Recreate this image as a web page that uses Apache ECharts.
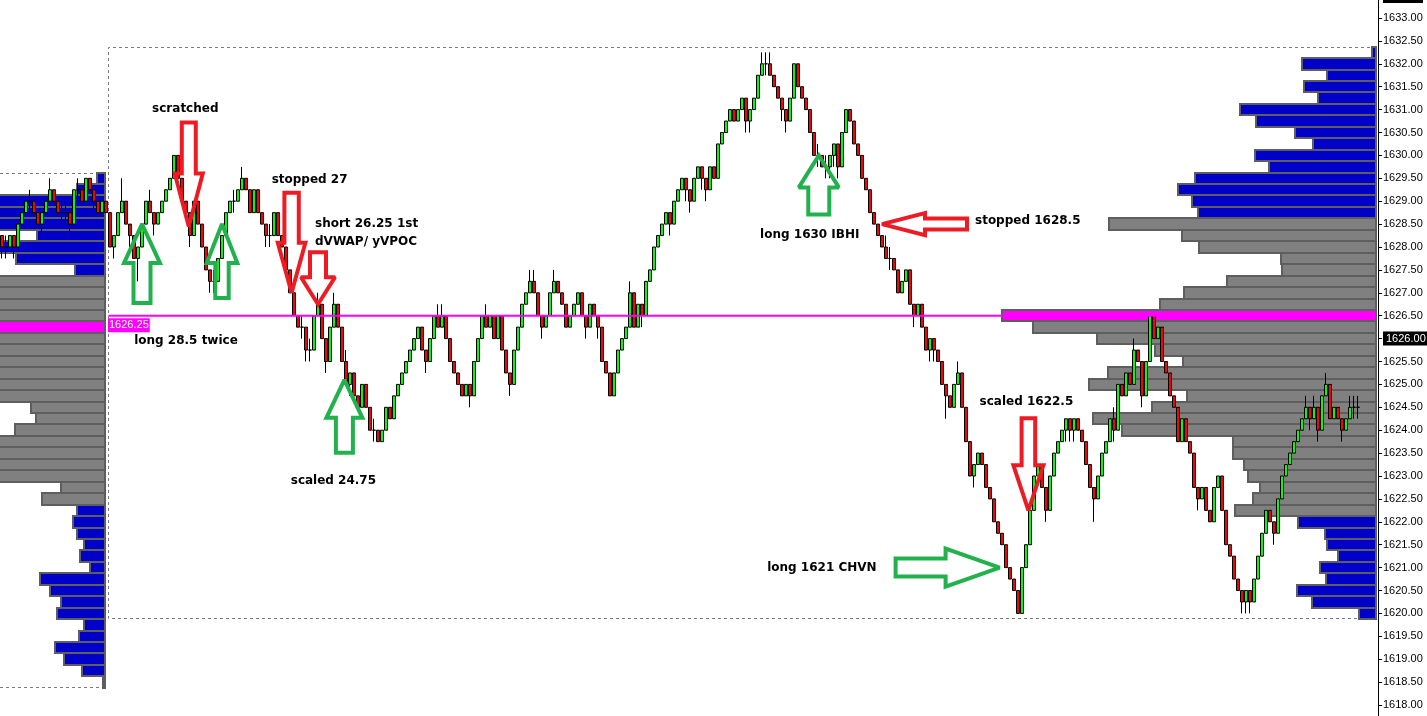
<!DOCTYPE html>
<html>
<head>
<meta charset="utf-8">
<title>ES range bars with session volume profiles</title>
<script src="https://cdn.jsdelivr.net/npm/echarts@6/dist/echarts.min.js"></script>
<style>
  html, body { margin: 0; padding: 0; background: #ffffff; }
  #chart { width: 1427px; height: 716px; }
</style>
</head>
<body>
<div id="chart"></div>
<script>
// ---------- price scale ----------
const TICK = 0.25;
const PRICE_MIN = 1618;
const PRICE_MAX = 1633;
const PRICE_STEP = 0.5;
const markedPrice = 1626.0;

// ---------- bars (each bar opens at the previous close) ----------
const firstOpen = 1628.25;
const closes = [
  1628.0, 1628.0, 1628.25, 1628.0, 1628.5, 1628.75, 1629.0, 1629.0, 1628.75, 1628.5,
  1628.75, 1629.0, 1629.25, 1629.0, 1628.75, 1628.75, 1628.75, 1628.5, 1629.25, 1629.25,
  1629.0, 1629.5, 1629.25, 1629.0, 1628.75, 1629.0, 1628.75, 1628.0, 1628.25, 1628.75,
  1629.0, 1628.5, 1628.25, 1627.75, 1628.0, 1628.5, 1629.0, 1628.75, 1628.5, 1628.75,
  1629.0, 1629.25, 1629.5, 1630.0, 1629.5, 1629.0, 1628.75, 1628.25, 1629.0, 1628.5,
  1628.0, 1627.5, 1627.25, 1627.25, 1627.75, 1628.25, 1628.75, 1629.0, 1629.0, 1629.25,
  1629.5, 1629.25, 1628.75, 1629.25, 1628.75, 1628.5, 1628.25, 1628.25, 1628.75, 1628.25,
  1628.0, 1627.5, 1627.0, 1626.5, 1626.25, 1626.25, 1625.75, 1625.75, 1626.5, 1626.75,
  1626.0, 1625.5, 1626.25, 1626.75, 1626.25, 1625.5, 1625.0, 1625.25, 1624.75, 1624.5,
  1625.0, 1624.5, 1624.0, 1624.0, 1623.75, 1624.0, 1624.5, 1624.25, 1624.75, 1625.0,
  1625.25, 1625.5, 1625.75, 1626.0, 1626.25, 1625.75, 1625.5, 1626.0, 1626.5, 1626.25,
  1626.5, 1626.0, 1625.5, 1625.25, 1625.0, 1624.75, 1625.0, 1624.75, 1625.5, 1626.0,
  1626.5, 1626.25, 1626.5, 1626.0, 1626.5, 1625.75, 1625.25, 1625.0, 1625.75, 1626.25,
  1626.75, 1627.0, 1627.25, 1627.0, 1626.5, 1626.25, 1626.5, 1627.0, 1627.25, 1627.0,
  1626.75, 1626.25, 1626.5, 1626.75, 1627.0, 1626.5, 1626.25, 1626.75, 1626.5, 1626.25,
  1625.5, 1625.25, 1624.75, 1625.25, 1625.75, 1626.0, 1626.25, 1627.0, 1626.25, 1626.75,
  1626.5, 1627.25, 1627.5, 1628.0, 1628.25, 1628.5, 1628.75, 1628.5, 1629.0, 1629.25,
  1629.5, 1629.25, 1629.0, 1629.5, 1629.75, 1629.5, 1629.25, 1629.75, 1629.5, 1630.25,
  1630.5, 1630.75, 1631.0, 1630.75, 1631.0, 1631.25, 1630.75, 1631.0, 1631.25, 1631.75,
  1632.0, 1632.0, 1631.75, 1631.5, 1631.25, 1631.0, 1630.75, 1631.25, 1632.0, 1631.5,
  1631.25, 1631.0, 1630.5, 1630.0, 1630.0, 1629.75, 1629.75, 1630.0, 1630.25, 1629.75,
  1630.5, 1631.0, 1630.75, 1630.25, 1630.0, 1629.5, 1629.25, 1628.75, 1628.5, 1628.25,
  1628.0, 1627.75, 1627.75, 1627.5, 1627.0, 1627.25, 1627.5, 1626.75, 1626.5, 1626.75,
  1626.25, 1625.75, 1626.0, 1625.75, 1625.5, 1625.0, 1624.75, 1624.5, 1625.0, 1625.25,
  1624.5, 1623.75, 1623.0, 1623.25, 1623.5, 1623.25, 1622.75, 1622.5, 1622.0, 1621.75,
  1621.5, 1621.0, 1620.75, 1620.5, 1620.0, 1621.0, 1621.5, 1622.25, 1623.0, 1623.25,
  1622.75, 1622.25, 1623.0, 1623.5, 1623.75, 1624.0, 1624.25, 1624.0, 1624.25, 1624.0,
  1623.75, 1623.25, 1622.75, 1622.5, 1623.0, 1623.5, 1623.75, 1624.25, 1624.0, 1625.0,
  1624.75, 1625.25, 1625.0, 1625.75, 1625.5, 1624.75, 1625.5, 1626.5, 1626.0, 1626.25,
  1625.5, 1625.25, 1624.75, 1624.5, 1623.75, 1624.25, 1623.75, 1623.5, 1622.75, 1622.5,
  1622.75, 1622.25, 1622.0, 1622.75, 1623.0, 1622.25, 1621.5, 1621.25, 1620.75, 1620.5,
  1620.25, 1620.5, 1620.25, 1620.75, 1621.25, 1621.75, 1622.25, 1622.0, 1621.75, 1622.5,
  1623.0, 1623.25, 1623.5, 1623.75, 1624.0, 1624.25, 1624.5, 1624.25, 1624.5, 1624.0,
  1624.75, 1625.0, 1624.25, 1624.5, 1624.25, 1624.0, 1624.25, 1624.5, 1624.5, 1624.5
];
// wick length beyond the body, in ticks
const wickUp = [
  0,1,0,0,0,0,0,1,0,0, 0,0,1,0,0,1,1,0,0,1, 0,0,0,0,0,0,0,0,0,0, 2,0,0,0,0,0,0,1,0,0,
  0,0,0,0,0,0,0,0,0,0, 0,0,0,1,0,0,0,0,1,0, 1,0,0,0,0,0,0,1,0,0, 0,0,0,0,0,1,0,1,0,1,
  0,0,0,1,0,0,1,0,0,0, 0,0,0,1,0,0,0,0,0,0, 0,0,0,0,0,0,0,0,0,1, 1,0,0,0,0,0,0,0,0,0,
  0,1,0,0,0,0,0,0,0,0, 0,0,1,1,0,0,0,0,1,0, 0,0,0,0,0,0,0,0,0,0, 0,0,0,0,0,0,0,1,0,0,
  0,0,0,0,0,0,0,0,0,0, 0,0,0,0,0,0,0,0,0,0, 0,0,0,0,0,0,0,0,0,0, 1,1,1,0,0,0,0,0,0,0,
  0,0,0,0,1,0,1,0,0,0, 0,0,0,0,0,0,0,0,0,0, 0,1,1,0,0,0,0,0,0,0, 0,0,0,0,0,0,0,0,0,1,
  0,0,0,0,0,0,0,0,0,0, 0,0,0,0,0,0,0,0,0,0, 0,0,0,0,0,0,0,0,0,0, 0,0,0,0,0,0,0,0,1,0,
  0,0,0,1,0,0,0,0,0,0, 0,0,0,0,0,0,0,0,0,0, 0,0,0,0,0,0,0,0,0,0, 0,0,0,0,0,0,0,0,0,0,
  0,0,0,0,0,0,1,0,1,0, 0,1,0,0,0,0,0,1,1,1
];
const wickDn = [
  1,1,0,1,0,0,0,1,0,0, 1,0,0,0,0,1,1,1,0,1, 0,0,0,1,0,0,0,0,1,0, 0,0,1,0,2,0,0,0,1,0,
  0,0,0,0,0,0,0,1,0,0, 0,0,1,1,0,0,0,0,1,0, 0,0,0,0,0,0,1,1,0,0, 0,0,0,0,0,1,1,1,0,0,
  0,1,0,0,0,0,0,1,0,0, 0,0,0,1,0,0,0,0,0,0, 0,0,0,0,0,0,1,0,0,0, 0,0,0,0,0,0,0,1,0,0,
  0,0,0,0,0,0,0,1,0,0, 0,0,0,0,0,1,0,0,0,0, 0,0,0,0,0,0,1,0,0,1, 0,0,0,0,0,0,0,0,0,0,
  1,0,0,0,0,0,0,1,0,0, 0,1,1,0,0,1,1,0,0,0, 0,0,0,0,0,0,1,1,0,0, 0,1,0,0,0,1,1,0,0,0,
  0,0,0,0,1,0,1,1,1,1, 0,0,0,0,0,0,0,0,0,0, 0,0,1,0,0,0,0,0,1,0, 0,0,1,1,0,0,2,0,0,0,
  0,0,0,1,0,0,0,0,0,0, 0,0,0,0,0,0,0,0,0,0, 0,1,0,0,0,0,1,1,1,0, 0,0,0,2,0,0,0,0,1,0,
  0,0,0,0,0,1,0,0,0,0, 0,0,0,0,0,0,0,0,0,1, 0,0,0,0,0,0,0,0,0,0, 1,1,1,0,0,0,0,0,1,0,
  0,0,0,0,0,0,0,1,0,1, 0,0,0,0,0,1,0,0,1,1
];
const sessionStart = 27;   // first bar of the current session
const padBars = 5;         // empty slots after the last bar

// ---------- previous session volume profile (top row first) ----------
const prevTop = 1629.5;
const prevVolume = [
  8, 28, 135, 150, 140, 68, 125, 89, 30,
  160, 170, 165, 175, 190, 170, 160, 150, 155, 145,
  130, 74, 69, 90, 120, 125, 115, 110, 44, 63,
  28, 32, 28, 21, 25, 15, 65, 55, 44, 48,
  21, 26, 50, 41, 23, 2
];
const prevVAH = 1627.25, prevVAL = 1622.5, prevPOC = 1626.25;

// ---------- current session volume profile (top row first) ----------
const dayTop = 1632.25;
const dayVolume = [
  4, 74, 49, 72, 58, 136, 120, 81, 63, 121,
  107, 181, 198, 184, 178, 267, 194, 177, 95, 94,
  149, 192, 216, 374, 343, 279, 221, 193, 268, 287,
  189, 224, 283, 254, 143, 143, 132, 128, 116, 123,
  141, 78, 51, 49, 38, 56, 50, 79, 64, 17
];
const dayVAH = 1628.5, dayVAL = 1622.25, dayPOC = 1626.5;

// ---------- trade notes ----------
const arrowBar   = [46.7, 35, 55, 72.4, 79, 85.6, 204.2, 220, 256.6, 249.4];
const arrowPrice = [1628.45, 1628.5, 1628.5, 1627.0, 1626.75, 1625.1, 1630.0, 1628.5, 1622.25, 1621.0];
const arrowSide  = ['exit', 'entry', 'entry', 'exit', 'exit', 'entry', 'entry', 'exit', 'exit', 'entry'];
const noteText   = ['scratched', 'long 28.5 twice', 'stopped 27', 'short 26.25 1st\ndVWAP/ yVPOC',
                    'scaled 24.75', 'long 1630 IBHI', 'stopped 1628.5', 'scaled 1622.5', 'long 1621 CHVN'];
const noteArrow  = [0, 1, 3, 4, 5, 6, 7, 8, 9];

// ---------- styles ----------
const BLUE = '#0000c8', GRAY = '#808080', MAGENTA = '#ff00ff', ROW_EDGE = '#5e5e5e';
const ARROW_COLOR = { exit: '#ed1c24', entry: '#22b14c' };
// [shaft half-width, head half-width, head length, shaft length, pointing]
const arrowShape = [
  [7, 14, 53, 51, 'down'], [8.5, 18, 39, 40, 'up'], [6.7, 15.3, 39, 35, 'up'],
  [7.2, 13.8, 50, 50, 'down'], [8, 17, 27, 25, 'down'], [8.5, 18, 38, 35, 'up'],
  [10.5, 20, 32, 27, 'up'], [5.5, 11, 43, 42, 'left'], [6.8, 15, 45, 47, 'down'],
  [9, 19, 54, 50, 'right']
];
// text anchor relative to its arrow tip: [dx, dy, align]
const noteOffset = [
  [-3.5, -118, 'center'], [44, 117, 'center'], [18, -113, 'center'], [-3, -71, 'left'],
  [-11, 101, 'center'], [-9, 79, 'center'], [93, -3, 'left'], [-2, -108, 'center'],
  [-123, 0, 'right']
];

const GRID_TOP = 18, GRID_BOTTOM = 11, GRID_RIGHT = 47;
const AXIS_X = 1378;
const NOTE_FONT = 'bold 12px "DejaVu Sans", sans-serif';
const AXIS_FONT = 'Liberation Sans';

// ---------- build series data ----------
const candles = closes.map((c, i) => {
  const o = i === 0 ? firstOpen : closes[i - 1];
  return [o, c, Math.min(o, c) - wickDn[i] * TICK, Math.max(o, c) + wickUp[i] * TICK];
});
const categories = Array.from({ length: closes.length + padBars }, (_, i) => String(i));
const prevRows = prevVolume.map((v, k) => [v, prevTop - k * TICK]);
const dayRows = dayVolume.map((v, k) => [v, dayTop - k * TICK]);

function rowColor(p, vah, val, poc) {
  if (Math.abs(p - poc) < 1e-6) return MAGENTA;
  if (p <= vah + 1e-6 && p >= val - 1e-6) return GRAY;
  return BLUE;
}

function profileRenderer(vah, val, poc) {
  return function (params, api) {
    const v = api.value(0), p = api.value(1);
    const a = api.coord([0, p]);
    const b = api.coord([v, p]);
    const h = api.size([0, TICK])[1];
    const y0 = Math.round(a[1] - h / 2), y1 = Math.round(a[1] + h / 2);
    const x0 = Math.round(Math.min(a[0], b[0])), x1 = Math.round(Math.max(a[0], b[0]));
    return {
      type: 'rect',
      shape: { x: x0, y: y0, width: x1 - x0, height: y1 - y0 },
      style: { fill: rowColor(p, vah, val, poc), stroke: ROW_EDGE, lineWidth: 2 }
    };
  };
}

const yRange = { min: PRICE_MIN, max: PRICE_MAX, interval: PRICE_STEP };

const chart = echarts.init(document.getElementById('chart'), null, { renderer: 'canvas' });

chart.setOption({
  animation: false,
  backgroundColor: '#ffffff',
  grid: [
    { left: 0, right: GRID_RIGHT, top: GRID_TOP, bottom: GRID_BOTTOM, containLabel: false, outerBoundsMode: 'none' },
    { left: 0, width: 105, top: GRID_TOP, bottom: GRID_BOTTOM, containLabel: false, outerBoundsMode: 'none' },
    { left: 900, width: 476, top: GRID_TOP, bottom: GRID_BOTTOM, containLabel: false, outerBoundsMode: 'none' }
  ],
  xAxis: [
    { type: 'category', gridIndex: 0, data: categories, boundaryGap: true, show: false },
    { type: 'value', gridIndex: 1, min: 0, max: 105, inverse: true, show: false },
    { type: 'value', gridIndex: 2, min: 0, max: 476, inverse: true, show: false }
  ],
  yAxis: [
    {
      type: 'value', gridIndex: 0, position: 'right', offset: AXIS_X - (1427 - GRID_RIGHT), ...yRange,
      splitLine: { show: false },
      axisLine: { show: false },
      axisTick: { show: true, length: 4, lineStyle: { color: '#000' } },
      axisLabel: {
        show: true, margin: 5, color: '#000', fontFamily: AXIS_FONT, fontSize: 11,
        showMinLabel: true, showMaxLabel: true,
        formatter: v => Math.abs(v - markedPrice) < 1e-9 ? '{hl|' + v.toFixed(2) + '}' : v.toFixed(2),
        rich: { hl: { backgroundColor: '#000', color: '#fff', fontFamily: AXIS_FONT, fontSize: 11, padding: [2, 3, 1, 3] } }
      }
    },
    { type: 'value', gridIndex: 1, ...yRange, show: false, splitLine: { show: false } },
    { type: 'value', gridIndex: 2, ...yRange, show: false, splitLine: { show: false } }
  ],
  series: [
    {
      name: 'prev profile', type: 'custom', xAxisIndex: 1, yAxisIndex: 1, z: 1, clip: false,
      renderItem: profileRenderer(prevVAH, prevVAL, prevPOC), data: prevRows, silent: true
    },
    {
      name: 'day profile', type: 'custom', xAxisIndex: 2, yAxisIndex: 2, z: 1, clip: false,
      renderItem: profileRenderer(dayVAH, dayVAL, dayPOC), data: dayRows, silent: true
    },
    {
      name: 'ES', type: 'candlestick', xAxisIndex: 0, yAxisIndex: 0, z: 2,
      barWidth: 3, data: candles, silent: true,
      itemStyle: {
        color: '#00ff00', color0: '#ff0000',
        borderColor: '#000000', borderColor0: '#000000', borderColorDoji: '#000000', borderWidth: 1
      }
    }
  ]
});

// ---------- overlay drawings placed through the chart's own scales ----------
function toPx(bar, price) {
  const i0 = Math.floor(bar), f = bar - i0;
  const a = chart.convertToPixel({ xAxisIndex: 0, yAxisIndex: 0 }, [i0, price]);
  if (!f) return a;
  const b = chart.convertToPixel({ xAxisIndex: 0, yAxisIndex: 0 }, [i0 + 1, price]);
  return [a[0] + (b[0] - a[0]) * f, a[1]];
}
const yOf = p => chart.convertToPixel({ yAxisIndex: 0 }, p);

function arrowPoints(tip, s) {
  const [sw, hw, hh, sl, dir] = s;
  const base = [[-sw, -(hh + sl)], [sw, -(hh + sl)], [sw, -hh], [hw, -hh], [0, 0], [-hw, -hh], [-sw, -hh]];
  const turn = {
    down: ([x, y]) => [x, y],
    up: ([x, y]) => [x, -y],
    left: ([x, y]) => [-y, x],
    right: ([x, y]) => [y, x]
  }[dir];
  return base.map(pt => { const q = turn(pt); return [tip[0] + q[0], tip[1] + q[1]]; });
}

const band = toPx(1, dayPOC)[0] - toPx(0, dayPOC)[0];
const sessLeft = Math.round(toPx(sessionStart, dayPOC)[0] - band / 2) + 0.5;
const dayRight = chart.convertToPixel({ xAxisIndex: 2, yAxisIndex: 2 }, [0, dayPOC])[0];
const prevRight = chart.convertToPixel({ xAxisIndex: 1, yAxisIndex: 1 }, [0, prevPOC])[0];
const dayBottom = dayTop - (dayVolume.length - 1) * TICK;
const prevBottom = prevTop - (prevVolume.length - 1) * TICK;
const dayHi = Math.round(yOf(dayTop + TICK / 2)) + 0.5;
const dayLo = Math.round(yOf(dayBottom - TICK / 2)) - 0.5;
const prevHi = Math.round(yOf(prevTop + TICK / 2)) + 0.5;
const prevLo = Math.round(yOf(prevBottom - TICK / 2)) - 0.5;
const dash = { stroke: '#7a7a7a', lineWidth: 1, lineDash: [3, 3] };

const elements = [];
// session range boxes
elements.push({ type: 'polyline', z: 0, silent: true,
  shape: { points: [[dayRight, dayHi], [sessLeft, dayHi], [sessLeft, dayLo], [dayRight, dayLo]] },
  style: Object.assign({ fill: null }, dash) });
elements.push({ type: 'line', z: 0, silent: true, shape: { x1: 0, y1: prevHi, x2: prevRight, y2: prevHi }, style: dash });
elements.push({ type: 'line', z: 0, silent: true, shape: { x1: 0, y1: prevLo, x2: prevRight, y2: prevLo }, style: dash });
// developing point of control
const pocY = yOf(dayPOC);
elements.push({ type: 'line', z: 3, silent: true,
  shape: { x1: sessLeft, y1: pocY, x2: dayRight, y2: pocY },
  style: { stroke: MAGENTA, lineWidth: 2 } });
// previous session point of control tag
elements.push({ type: 'text', z: 4, silent: true, x: sessLeft - 0.5, y: yOf(prevPOC) - 2,
  style: { text: prevPOC.toFixed(2), font: '11px "' + AXIS_FONT + '"', fill: '#ffffff',
           backgroundColor: MAGENTA, padding: [2, 1, 1, 1], align: 'left', verticalAlign: 'middle' } });
// price scale line over the full height
elements.push({ type: 'line', z: 5, silent: true, shape: { x1: AXIS_X + 0.5, y1: 0, x2: AXIS_X + 0.5, y2: 716 },
  style: { stroke: '#000', lineWidth: 1 } });
elements.push({ type: 'rect', z: 5, silent: true, shape: { x: AXIS_X + 5, y: 0, width: 40, height: 3 },
  style: { fill: '#000' } });

// arrows
const tips = arrowBar.map((b, k) => toPx(b, arrowPrice[k]));
tips.forEach((tip, k) => {
  elements.push({ type: 'polygon', z: 10, silent: true,
    shape: { points: arrowPoints(tip, arrowShape[k]) },
    style: { fill: null, stroke: ARROW_COLOR[arrowSide[k]], lineWidth: 4, lineJoin: 'miter', miterLimit: 2 } });
});
// notes
noteText.forEach((t, k) => {
  const tip = tips[noteArrow[k]];
  const [dx, dy, align] = noteOffset[k];
  elements.push({ type: 'text', z: 10, silent: true, x: tip[0] + dx, y: tip[1] + dy,
    style: { text: t, font: NOTE_FONT, fill: '#000', align: align, verticalAlign: 'middle', lineHeight: 18 } });
});

chart.setOption({ graphic: { elements: elements } });
</script>
</body>
</html>
